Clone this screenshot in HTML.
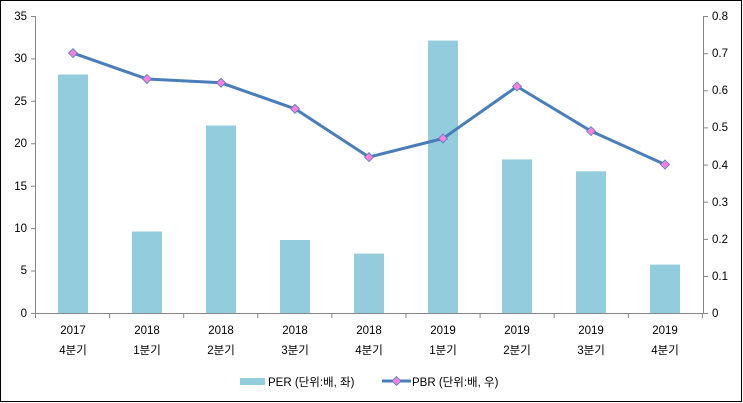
<!DOCTYPE html>
<html><head><meta charset="utf-8"><style>
body{margin:0;background:#fff}
svg{display:block;font-family:"Liberation Sans","Noto Sans CJK KR",sans-serif;font-size:11.5px}
</style></head><body>
<svg width="743" height="403" viewBox="0 0 743 403">
<rect x="0.5" y="0.5" width="741" height="401" fill="#fff" stroke="#000"/>
<g fill="#93cddd">
<rect x="58" y="74.5" width="30" height="238.5"/>
<rect x="132" y="231.5" width="30" height="81.5"/>
<rect x="206" y="125.5" width="30" height="187.5"/>
<rect x="280" y="240" width="30" height="73"/>
<rect x="354" y="253.6" width="30" height="59.4"/>
<rect x="428" y="40.6" width="30" height="272.4"/>
<rect x="502" y="159.4" width="30" height="153.6"/>
<rect x="576" y="171.3" width="30" height="141.7"/>
<rect x="650" y="264.6" width="30" height="48.4"/>
</g>
<g stroke="#868686" stroke-width="1" fill="none">
<path d="M35.5 16V313M31 16.5H35.5M31 58.9H35.5M31 101.3H35.5M31 143.8H35.5M31 186.2H35.5M31 228.6H35.5M31 271H35.5M31 313.5H35.5"/>
<path d="M703.5 16V313M703.5 16.5H708M703.5 53.6H708M703.5 90.8H708M703.5 127.9H708M703.5 165.1H708M703.5 202.2H708M703.5 239.4H708M703.5 276.5H708M703.5 313.5H708"/>
<path d="M35.5 313.5H703.5M35.5 313V318M109.6 313V318M183.7 313V318M257.8 313V318M331.9 313V318M406 313V318M480.1 313V318M554.2 313V318M628.3 313V318M702.4 313V318"/>
</g>
<g text-anchor="end" fill="#000">
<text x="27" y="20">35</text><text x="27" y="62">30</text><text x="27" y="105">25</text><text x="27" y="147">20</text><text x="27" y="190">15</text><text x="27" y="232">10</text><text x="27" y="274">5</text><text x="27" y="317">0</text>
</g>
<g fill="#000">
<text x="712" y="20">0.8</text><text x="712" y="57">0.7</text><text x="712" y="94">0.6</text><text x="712" y="131">0.5</text><text x="712" y="169">0.4</text><text x="712" y="206">0.3</text><text x="712" y="243">0.2</text><text x="712" y="280">0.1</text><text x="712" y="317">0</text>
</g>
<g text-anchor="middle" fill="#000">
<text x="73" y="334">2017</text><text x="73" y="354">4분기</text>
<text x="147" y="334">2018</text><text x="147" y="354">1분기</text>
<text x="221" y="334">2018</text><text x="221" y="354">2분기</text>
<text x="295" y="334">2018</text><text x="295" y="354">3분기</text>
<text x="369" y="334">2018</text><text x="369" y="354">4분기</text>
<text x="443" y="334">2019</text><text x="443" y="354">1분기</text>
<text x="517" y="334">2019</text><text x="517" y="354">2분기</text>
<text x="591" y="334">2019</text><text x="591" y="354">3분기</text>
<text x="665" y="334">2019</text><text x="665" y="354">4분기</text>
</g>
<polyline fill="none" stroke="#4a7ebb" stroke-width="3" stroke-linejoin="round" points="73,53.1 147,79 221,82.8 295,108.8 369,157.1 443,138.5 517,86.5 591,131.1 665,164.5"/>
<g fill="#ff7fdf" stroke="#4a7ebb" stroke-width="0.8">
<path d="M73 48.6l4.5 4.5-4.5 4.5-4.5-4.5z"/>
<path d="M147 74.5l4.5 4.5-4.5 4.5-4.5-4.5z"/>
<path d="M221 78.3l4.5 4.5-4.5 4.5-4.5-4.5z"/>
<path d="M295 104.3l4.5 4.5-4.5 4.5-4.5-4.5z"/>
<path d="M369 152.6l4.5 4.5-4.5 4.5-4.5-4.5z"/>
<path d="M443 134l4.5 4.5-4.5 4.5-4.5-4.5z"/>
<path d="M517 82l4.5 4.5-4.5 4.5-4.5-4.5z"/>
<path d="M591 126.6l4.5 4.5-4.5 4.5-4.5-4.5z"/>
<path d="M665 160l4.5 4.5-4.5 4.5-4.5-4.5z"/>
</g>
<rect x="240" y="378" width="25" height="7" fill="#93cddd"/>
<text x="268" y="386" fill="#000">PER (단위:배, 좌)</text>
<line x1="382" y1="381" x2="411" y2="381" stroke="#4a7ebb" stroke-width="3"/>
<path d="M396.5 376.5l4.5 4.5-4.5 4.5-4.5-4.5z" fill="#ff7fdf" stroke="#4a7ebb" stroke-width="0.8"/>
<text x="412" y="386" fill="#000">PBR (단위:배, 우)</text>
</svg>
</body></html>
